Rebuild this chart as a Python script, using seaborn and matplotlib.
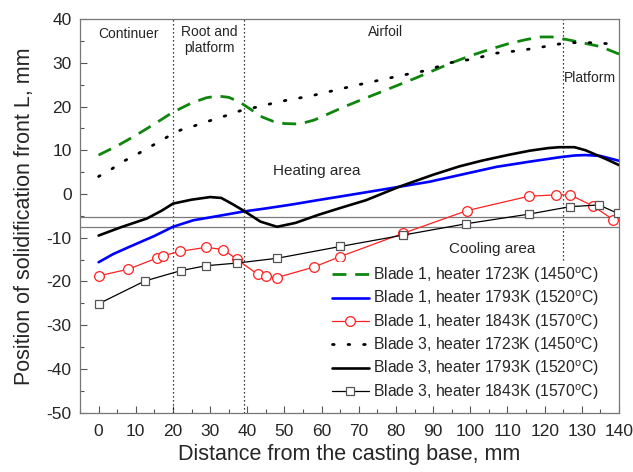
import matplotlib
matplotlib.use("Agg")
import matplotlib.pyplot as plt
from matplotlib.ticker import MultipleLocator
import seaborn as sns
import pandas as pd

# Blade 1, heater 1723K (1450 C)
b1_1723_x = [0, 5, 10, 15, 20, 25, 29, 32, 35, 38, 41, 44, 47, 50, 54, 58, 62, 66, 70,
             75, 80, 85, 90, 95, 100, 105, 110, 115, 119, 122, 126, 130, 135, 140]
b1_1723_y = [8.9, 11.0, 13.4, 16.0, 18.7, 20.8, 22.0, 22.4, 22.1, 21.0, 19.3, 17.6, 16.6,
             16.1, 16.0, 16.9, 18.4, 19.9, 21.3, 23.0, 24.7, 26.4, 28.2, 30.0, 31.6, 33.0,
             34.3, 35.3, 35.9, 35.9, 35.3, 34.6, 33.7, 32.0]

# Blade 1, heater 1793K (1520 C)
b1_1793_x = [0, 4, 8.5, 15, 20, 25.5, 31, 39, 45, 52, 59, 67, 77, 89, 98, 107, 116, 124,
             128, 131, 135, 140]
b1_1793_y = [-15.6, -13.7, -12.0, -9.6, -7.5, -6.0, -5.2, -4.0, -3.3, -2.4, -1.4, -0.3,
             1.1, 2.8, 4.5, 6.2, 7.4, 8.4, 8.8, 8.9, 8.7, 7.6]

# Blade 1, heater 1843K (1570 C)
b1_1843_x = [0, 8, 15.8, 17.4, 22, 28.9, 33.6, 37.1, 42.9, 44.9, 48, 57.9, 65, 81.9,
             99.1, 115.8, 123.1, 126.8, 132.9, 138.5]
b1_1843_y = [-18.7, -17.2, -14.6, -14.1, -13.1, -12.2, -12.7, -14.9, -18.4, -18.8, -19.1,
             -16.7, -14.3, -9.0, -3.8, -0.5, -0.2, -0.2, -2.7, -5.9]

# Blade 3, heater 1723K (1450 C)
b3_1723_x = [0, 3.5, 6.5, 10, 13, 16, 19, 22, 25.5, 29, 32, 35, 38, 41, 44, 47.5, 51, 57,
             63, 69.5, 76, 82, 88, 94.5, 101, 107, 113.5, 120, 126, 132, 138.5, 140]
b3_1723_y = [4.0, 5.7, 7.4, 8.9, 10.4, 11.8, 13.3, 14.6, 15.5, 16.5, 17.3, 18.1, 19.0,
             19.6, 20.1, 20.9, 21.5, 22.4, 23.6, 24.9, 26.1, 27.2, 28.2, 30.0, 30.9, 32.2,
             32.8, 33.7, 34.6, 34.6, 34.3, 34.2]

# Blade 3, heater 1793K (1520 C)
b3_1793_x = [0, 6, 13, 17, 20, 25, 30, 33, 36, 39, 43.5, 48, 53, 59, 65, 72, 81, 90, 97,
             103, 110, 116, 121, 124, 128, 131, 134, 137, 140]
b3_1793_y = [-9.5, -7.6, -5.6, -3.8, -2.2, -1.3, -0.7, -0.9, -2.3, -3.8, -6.3, -7.5, -6.6,
             -4.8, -3.2, -1.4, 1.7, 4.4, 6.3, 7.6, 8.9, 9.9, 10.5, 10.7, 10.7, 10.0, 8.9,
             7.8, 6.6]

# Blade 3, heater 1843K (1570 C)
b3_1843_x = [0, 12.4, 22.2, 28.9, 37.1, 48, 65, 81.9, 98.9, 115.8, 126.8, 134.6, 139.6]
b3_1843_y = [-25.1, -19.9, -17.5, -16.4, -15.8, -14.7, -12.0, -9.4, -6.8, -4.6, -2.9,
             -2.5, -4.4]

labels = [
    "Blade 1, heater 1723K (1450$^\\mathregular{o}$C)",
    "Blade 1, heater 1793K (1520$^\\mathregular{o}$C)",
    "Blade 1, heater 1843K (1570$^\\mathregular{o}$C)",
    "Blade 3, heater 1723K (1450$^\\mathregular{o}$C)",
    "Blade 3, heater 1793K (1520$^\\mathregular{o}$C)",
    "Blade 3, heater 1843K (1570$^\\mathregular{o}$C)",
]

# zone boundaries along the blade and the heating/cooling band
zone_x = [20, 39, 125]
band_y = [-5.2, -7.5]

sns.set_style("ticks")
plt.rcParams["font.family"] = ["Liberation Sans", "DejaVu Sans"]
plt.rcParams["axes.unicode_minus"] = False
plt.rcParams["mathtext.fontset"] = "custom"
plt.rcParams["mathtext.rm"] = "Liberation Sans"

fig = plt.figure(figsize=(6.33, 4.72), dpi=100)
ax = fig.add_axes([0.1264, 0.1256, 0.8515, 0.8341])

# reference lines
for xv in zone_x[:2]:
    ax.axvline(xv, color="black", lw=0.9, ls=(0, (1, 2.2)), zorder=1)
ax.vlines(zone_x[2], -15, 40, color="black", lw=0.9, ls=(0, (1, 2.2)), zorder=1)
for yv in band_y:
    ax.axhline(yv, color="#7a7a7a", lw=0.9, zorder=1)

series = [
    (b1_1723_x, b1_1723_y, dict(color="#0e860e", lw=2.0, linestyle=(0, (5, 3.2)))),
    (b1_1793_x, b1_1793_y, dict(color="#0000ff", lw=1.9)),
    (b1_1843_x, b1_1843_y, dict(color="#ff2020", lw=0.9, marker="o", markersize=7,
                                markerfacecolor="white", markeredgecolor="#ff2020",
                                markeredgewidth=0.9)),
    (b3_1723_x, b3_1723_y, dict(color="black", lw=2.0, linestyle=(0, (0.6, 5.0)),
                                dash_capstyle="round")),
    (b3_1793_x, b3_1793_y, dict(color="black", lw=1.9)),
    (b3_1843_x, b3_1843_y, dict(color="black", lw=0.9, marker="s", markersize=6,
                                markerfacecolor="white", markeredgecolor="#555555",
                                markeredgewidth=0.9)),
]

handles = []
for (xs, ys, style), lab in zip(series, labels):
    df = pd.DataFrame({"x": xs, "y": ys})
    sns.lineplot(data=df, x="x", y="y", ax=ax, sort=False, estimator=None,
                 label=lab, legend=False, zorder=3, **style)
    handles.append(ax.lines[-1])

ax.set_xlim(-5, 140)
ax.set_ylim(-50, 40)
ax.set_xticks(range(0, 141, 10))
ax.set_yticks(range(-50, 41, 10))
ax.xaxis.set_minor_locator(MultipleLocator(5))
ax.yaxis.set_minor_locator(MultipleLocator(5))
ax.tick_params(which="both", direction="in", top=False, right=False,
               color="#555555", width=0.8, labelsize=12.5, pad=6)
ax.tick_params(axis="x", which="major", pad=8)
ax.tick_params(which="major", length=5)
ax.tick_params(which="minor", length=3)
for sp in ax.spines.values():
    sp.set_color("#777777")
    sp.set_linewidth(0.9)

ax.set_xlabel("Distance from the casting base, mm", fontsize=15.5, labelpad=4)
ax.set_ylabel("Position of solidification front L, mm", fontsize=15.5, labelpad=8)

# zone and area annotations
ax.text(8.1, 36.5, "Continuer", fontsize=10, ha="center", va="center")
ax.text(29.7, 35.2, "Root and\nplatform", fontsize=10, ha="center", va="center",
        linespacing=1.25)
ax.text(77.3, 37.0, "Airfoil", fontsize=10, ha="center", va="center")
ax.text(125.3, 26.5, "Platform", fontsize=10, ha="left", va="center")
ax.text(58.8, 5.3, "Heating area", fontsize=11, ha="center", va="center")
ax.text(106.0, -12.6, "Cooling area", fontsize=11, ha="center", va="center")

leg = ax.legend(handles=handles, labels=labels, loc="lower right",
                bbox_to_anchor=(0.968, 0.02), fontsize=11.3, frameon=True,
                facecolor="white", edgecolor="none", framealpha=1, fancybox=False,
                handlelength=2.35, handletextpad=0.25, labelspacing=0.24,
                borderpad=0.2, borderaxespad=0.0)

fig.savefig("out.png", dpi=100)
